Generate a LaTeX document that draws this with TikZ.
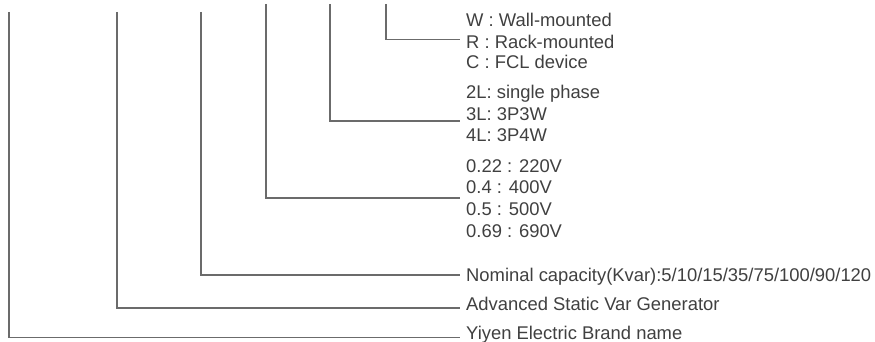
\documentclass[tikz,border=0pt]{standalone}
\usepackage{fontspec}
\setmainfont{Liberation Sans}
\begin{document}
\begin{tikzpicture}[
    x=1pt, y=-1pt,
    lbl/.style={anchor=west, inner xsep=6pt, inner ysep=0pt,
                text height=13.2pt, text depth=0pt,
                font=\fontsize{18.4}{22}\selectfont, text=black!75},
    conn/.style={draw=black!58, line width=1.2pt},
]
\useasboundingbox (0,0) rectangle (875,342);

% Tops of the code lines
\coordinate (brandtop)  at (9, 12);
\coordinate (asvgtop)   at (117, 12);
\coordinate (captop)    at (201, 12);
\coordinate (volttop)   at (266, 4);
\coordinate (phasetop)  at (330, 4);
\coordinate (mounttop)  at (386, 4);

% Mounting
\node[lbl] (wall)  at (460, 20)   {W : Wall-mounted};
\node[lbl] (rack)  at (460, 41.5) {R : Rack-mounted};
\node[lbl] (fcl)   at (460, 62)   {C : FCL device};

% Phase
\node[lbl] (ph2)   at (460, 91.5)  {2L: single phase};
\node[lbl] (ph3)   at (460, 113.5) {3L: 3P3W};
\node[lbl] (ph4)   at (460, 135)   {4L: 3P4W};

% Voltage
\node[lbl] (v022)  at (460, 166) {0.22 : 220V};
\node[lbl] (v04)   at (460, 187) {0.4 : 400V};
\node[lbl] (v05)   at (460, 209) {0.5 : 500V};
\node[lbl] (v069)  at (460, 231) {0.69 : 690V};

% Capacity, product, brand
\node[lbl] (cap)   at (460, 275)   {Nominal capacity(Kvar):5/10/15/35/75/100/90/120};
\node[lbl] (asvg)  at (460, 304)   {Advanced Static Var Generator};
\node[lbl] (brand) at (460, 332.5) {Yiyen Electric Brand name};

% Connectors
\draw[conn] (mounttop) |- ([yshift=2pt]rack.west);
\draw[conn] (phasetop) |- ([yshift=-7.5pt]ph3.west);
\draw[conn] (volttop)  |- ([yshift=-11pt]v04.west);
\draw[conn] (captop)   |- (cap.west);
\draw[conn] (asvgtop)  |- ([yshift=-4pt]asvg.west);
\draw[conn] (brandtop) |- ([yshift=-5pt]brand.west);

\end{tikzpicture}
\end{document}
